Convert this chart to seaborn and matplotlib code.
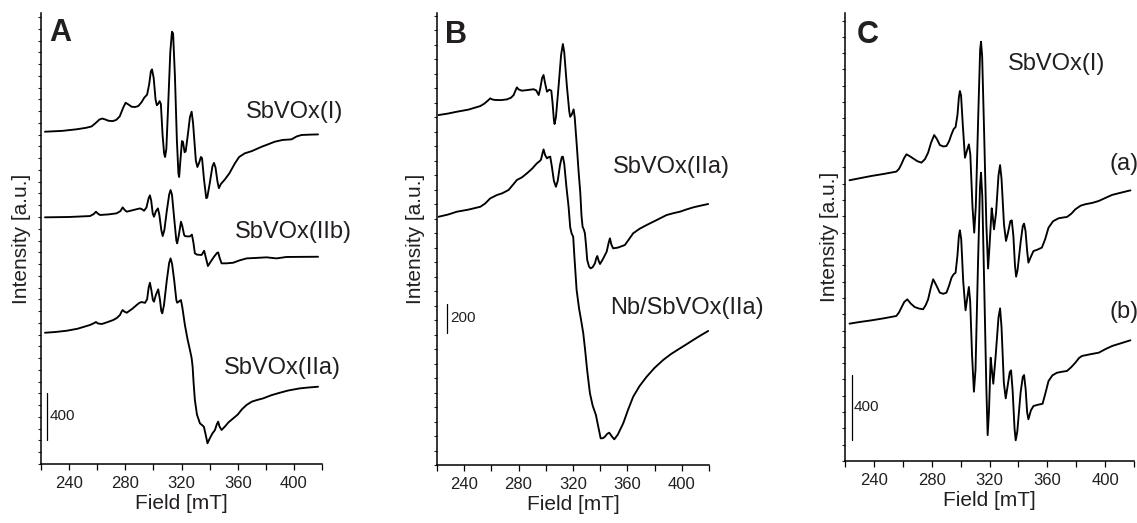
import matplotlib
matplotlib.use('Agg')
import matplotlib.pyplot as plt
import seaborn as sns
from matplotlib.ticker import MultipleLocator, NullFormatter

# Panel A - SbVOx(I)
a_i_field = [222.8, 235, 245, 252, 256, 259, 261.5, 263.5, 265.5, 268, 271, 273.5, 276, 278.5,
             280.2, 282, 284.5, 287, 289.2, 291.5, 293.5, 295.5, 297, 298.2, 299, 300.2, 301.5,
             302.4, 303.3, 304.4, 305.3, 306.5, 307.6, 308.3, 309.2, 310.5, 312, 313.2, 314,
             315.3, 316.7, 317.8, 318.3, 319, 320.3, 321, 322.2, 323, 324.5, 326, 327.2, 328.2,
             330.2, 331.3, 332.5, 333.8, 334.6, 336, 337.6, 338.3, 340, 342, 343.1, 344.2, 345.6,
             346.6, 348, 350.9, 354, 358, 361, 365, 370, 377, 381, 386.4, 392, 398.3, 402, 405.4,
             411, 417.2]
a_i_int = [2825, 2832, 2845, 2858, 2870, 2900, 2928, 2937, 2930, 2918, 2915, 2925, 2955, 3030,
           3071, 3058, 3037, 3035, 3043, 3075, 3115, 3140, 3230, 3340, 3355, 3280, 3100,
           3050, 3060, 3085, 3060, 2800, 2640, 2610, 2680, 3050, 3500, 3675, 3660,
           3300, 2750, 2470, 2440, 2550, 2745, 2740, 2650, 2660, 2800, 2950, 2995, 2900,
           2580, 2525, 2560, 2610, 2600, 2420, 2260, 2265, 2380, 2530, 2560, 2520, 2400,
           2345, 2380, 2420, 2470, 2556, 2610, 2641, 2660, 2697, 2715, 2740, 2755, 2760, 2785, 2797,
           2800, 2802]

# Panel A - SbVOx(IIb)
a_iib_field = [222.8, 240, 254.9, 257.5, 259.1, 260.5, 262, 268, 273.8, 276.5, 278.1, 279.5, 281,
               286, 290.4, 292, 293.3, 295, 296.6, 297.5, 298.4, 299.5, 300.4, 301.8, 303.2, 304.2,
               305.6, 306.6, 307.8, 309.5, 311.2, 312.2, 313.2, 315, 316.3, 316.9, 318, 319.6,
               320.6, 321.8, 322.4, 324, 326, 327.4, 328.5, 329.5, 331, 334.3, 336.1, 337, 338.8,
               340.5, 343, 345.3, 346.1, 347.2, 348.5, 352, 356.8, 361, 366.3, 373, 380.5, 387.6,
               394.7, 405, 417.2]
a_iib_int = [2097, 2100, 2108, 2125, 2145, 2128, 2117, 2122, 2131, 2150, 2182, 2160, 2145,
             2160, 2173, 2165, 2153, 2180, 2260, 2284, 2240, 2130, 2102, 2150, 2173, 2120,
             1990, 1938, 1990, 2150, 2290, 2329, 2290, 2060, 1900, 1876, 1940, 2060,
             2020, 1950, 1938, 1935, 1935, 1950, 1880, 1791, 1780, 1777, 1813, 1770, 1683,
             1715, 1760, 1795, 1799, 1750, 1706, 1706, 1711, 1730, 1748, 1752, 1757, 1748,
             1760, 1761, 1762]

# Panel A - SbVOx(IIa)
a_iia_field = [222.8, 230, 238.3, 246, 254.9, 257.8, 259.1, 260.5, 263.2, 267, 271.4, 274, 276.2,
               277.3, 278.1, 279.3, 281, 285, 288.1, 290, 291.6, 294, 295.5, 296.6, 297.5, 298.5,
               299.6, 300.4, 301.8, 303.4, 304.6, 305.6, 306.3, 307.5, 309.5, 311.2, 312.2, 313.3,
               314.8, 316.3, 316.9, 318, 319.6, 320.6, 322.4, 324.3, 326, 327.2, 327.9, 328.6,
               329.5, 331, 333.1, 334.7, 335.9, 337, 338.5, 340, 342, 343.8, 345.2, 346.1, 347,
               348.5, 351, 353.5, 356.8, 360, 363, 366.3, 370, 374, 378.1, 384, 390, 396, 404.2,
               410, 417.2]
a_iia_int = [1116, 1122, 1133, 1150, 1182, 1198, 1207, 1195, 1190, 1205, 1224, 1242, 1267,
             1295, 1309, 1296, 1286, 1320, 1352, 1370, 1377, 1370, 1400, 1500, 1541, 1480,
             1395, 1380, 1440, 1485, 1400, 1300, 1281, 1350, 1560, 1710, 1748, 1700,
             1560, 1395, 1371, 1380, 1394, 1330, 1182, 1060, 969, 900, 827, 690,
             544, 420, 346, 330, 317, 260, 176, 215, 260, 289, 340, 360, 320,
             289, 320, 355, 388, 420, 465, 502, 530, 545, 558, 585, 606, 625, 643,
             650, 657]

# Panel B - SbVOx(IIa)
b_iia_field = [221.2, 228, 234.7, 243, 251.9, 255, 257.5, 259.2, 260.8, 262.9, 267, 271.5, 274.5,
               276.4, 277.8, 278.8, 280, 282.5, 287, 291.1, 293, 294.8, 296, 297.3, 298.4, 299.4,
               300.9, 302.6, 304.1, 305, 306, 306.5, 307.5, 309.5, 311.3, 312.6, 313.6, 315.5,
               317.3, 318, 319.2, 320.5, 321.3, 322.9, 324.2, 325.4, 326.3, 327.1, 328.0, 328.8,
               329.6, 330.5, 331.8, 333.0, 334.5, 336.2, 337.1, 337.9, 338.9, 339.9, 342, 344.8,
               346.3, 347.2, 348.3, 349.6, 353, 358.2, 361, 364.3, 369, 374.2, 381.5, 388.9, 394,
               398.7, 403, 408.5, 414, 419.5]
b_iia_int = [2415, 2425, 2438, 2452, 2477, 2495, 2515, 2530, 2522, 2519, 2518, 2523, 2535,
             2553, 2585, 2606, 2592, 2583, 2588, 2593, 2585, 2553, 2600, 2670, 2691, 2640,
             2576, 2590, 2583, 2500, 2380, 2353, 2400, 2620, 2830, 2905, 2850, 2620,
             2440, 2403, 2420, 2454, 2400, 2196, 2020, 1880, 1720, 1644, 1625, 1599,
             1520, 1415, 1370, 1357, 1365, 1392, 1425, 1442, 1410, 1387, 1420, 1472,
             1535, 1564, 1520, 1495, 1500, 1518, 1555, 1599, 1630, 1656, 1690, 1725, 1738,
             1748, 1762, 1778, 1790, 1801]

# Panel B - Nb/SbVOx(IIa)
b_nb_field = [221.2, 228, 234.7, 243, 251.9, 255.5, 259.2, 264.1, 268, 272.7, 276, 278.8, 282.5,
              286.2, 290, 293.5, 295.3, 296.5, 297.6, 298.4, 299.5, 300.9, 302.2, 303.3, 304.5,
              306, 307.5, 308.8, 310.5, 311.8, 312.6, 313.6, 315.2, 316.8, 318, 319.0, 320.2,
              321.2, 322.7, 324.5, 326, 327.6, 329, 330.5, 332.5, 334.5, 336.9, 338.5, 340.4,
              342, 343.5, 345.2, 346.7, 348.4, 350.4, 353, 357.0, 360.5, 364.3, 369, 374.2, 380,
              386.4, 392, 398.7, 403, 408.5, 414, 419.5]
b_nb_int = [1713, 1728, 1748, 1762, 1782, 1805, 1840, 1863, 1875, 1898, 1935, 1967, 1985,
            2013, 2045, 2082, 2095, 2107, 2150, 2178, 2140, 2116, 2125, 2128, 2060,
            1960, 1920, 1960, 2070, 2125, 2128, 2080, 1920, 1782, 1640, 1599, 1575,
            1420, 1208, 1080, 1000, 909, 790, 650, 495, 410, 345, 270, 184,
            185, 195, 215, 223, 200, 177, 210, 288, 380, 471, 545, 609, 670,
            725, 765, 805, 830, 863, 895, 925]

# Panel C - SbVOx(I) (a)
c_a_field = [223.1, 230, 238.1, 247, 255.5, 257.3, 259.0, 260.8, 262.5, 264.5, 267.1, 270, 272.9,
             275.3, 277.5, 279.5, 281.7, 283.5, 285.6, 288, 290.2, 292, 293.7, 295.2, 296.5, 297.8,
             298.8, 299.5, 300.3, 301.5, 303.0, 304.3, 305.7, 306.7, 308.2, 309.4, 310.5, 312.3,
             313.5, 314.1, 314.9, 316.3, 317.8, 319.0, 320.0, 321.5, 322.2, 323.1, 324.5, 326.2,
             327.3, 328.3, 330, 331.4, 332.8, 334.4, 335.4, 336.5, 337.6, 338.4, 339.4, 341.5,
             343.0, 343.9, 344.9, 346.0, 346.9, 348.5, 350.4, 353, 356.2, 358.5, 360.8, 364,
             367.8, 370.5, 373.6, 376.5, 379.4, 383, 386.3, 391, 395.6, 400, 404.8, 411, 417.5]
c_a_int = [1721, 1733, 1747, 1760, 1774, 1790, 1819, 1855, 1880, 1870, 1855, 1838, 1829,
           1850, 1890, 1950, 1998, 1975, 1937, 1928, 1931, 1960, 2003, 2035, 2047, 2120,
           2230, 2268, 2240, 2060, 1859, 1900, 1941, 1880, 1560, 1400, 1560, 2150,
           2520, 2570, 2480, 2000, 1450, 1180, 1320, 1549, 1500, 1420, 1520, 1750,
           1814, 1730, 1450, 1349, 1400, 1470, 1475, 1380, 1200, 1130, 1170, 1340,
           1440, 1455, 1410, 1290, 1216, 1250, 1287, 1295, 1308, 1360, 1430, 1470,
           1488, 1492, 1496, 1515, 1543, 1565, 1574, 1582, 1594, 1612, 1631, 1645, 1659]

# Panel C - SbVOx(I) (b)
c_b_field = [223.1, 230, 238.1, 247, 255.5, 257.3, 259.0, 261, 263.1, 265.5, 268.2, 271, 274.0,
             275.8, 277.5, 279.3, 281.0, 283, 285.6, 288, 290.2, 292, 293.7, 295.2, 296.5, 297.8,
             298.8, 299.5, 300.4, 301.8, 303.4, 304.6, 305.7, 306.6, 307.9, 309.2, 310.3, 312.0,
             313.4, 314.1, 315, 316.5, 317.8, 318.7, 319.6, 320.8, 321.6, 322.6, 324.2, 326.2,
             327.3, 328.3, 329.9, 331.2, 332.7, 334.0, 334.9, 336, 337.3, 338.1, 339.2, 341.5,
             343.0, 343.9, 345, 346.0, 346.9, 348.6, 350.4, 353.5, 356.7, 358.8, 360.8, 363.5,
             366.6, 370, 373.6, 376.5, 379.4, 382, 384.0, 390, 395.6, 400, 404.8, 411, 417.5]
c_b_int = [842, 852, 862, 875, 889, 910, 940, 975, 991, 965, 944, 935, 930,
           955, 991, 1060, 1114, 1080, 1032, 1025, 1032, 1075, 1124, 1145, 1154, 1260,
           1380, 1414, 1360, 1100, 924, 1000, 1067, 980, 650, 425, 560, 1200,
           1680, 1767, 1620, 1000, 450, 159, 300, 633, 560, 474, 640, 880,
           936, 820, 480, 384, 470, 545, 556, 430, 200, 127, 180, 420,
           515, 527, 440, 300, 256, 310, 337, 345, 351, 420, 490, 525,
           541, 547, 552, 575, 603, 632, 644, 655, 664, 685, 705, 722, 740]

# scale bars (field, start, length)
bar_a = (224.3, 204, 400)
bar_b = (227.4, 911, 200)
bar_c = (224.6, 130, 400)

sns.set_style('ticks')
plt.rcParams['font.family'] = ['Liberation Sans', 'DejaVu Sans']

txt = '#231f20'
fig = plt.figure(figsize=(11.37, 5.23), dpi=100)
axA = fig.add_axes([0.0361, 0.1128, 0.2471, 0.8623])
axB = fig.add_axes([0.3843, 0.1109, 0.2392, 0.8642])
axC = fig.add_axes([0.7432, 0.1185, 0.2542, 0.8566])


def style_axis(ax, ytop, lpad):
    ax.set_xlim(220, 420)
    ax.set_ylim(0, ytop)
    ax.xaxis.set_major_locator(MultipleLocator(40))
    ax.xaxis.set_minor_locator(MultipleLocator(20))
    ax.yaxis.set_major_locator(MultipleLocator(100))
    ax.yaxis.set_major_formatter(NullFormatter())
    ax.tick_params(axis='x', which='both', direction='out', length=4.5, width=0.9,
                   labelsize=12, pad=4, colors='black', labelcolor=txt)
    ax.tick_params(axis='y', which='both', direction='out', length=2, width=0.8)
    for s in ['top', 'right']:
        ax.spines[s].set_visible(False)
    for s in ['left', 'bottom']:
        ax.spines[s].set_linewidth(1.1)
        ax.spines[s].set_color('black')
    ax.set_xlabel('Field [mT]', fontsize=15, color=txt, labelpad=2)
    ax.set_ylabel('Intensity [a.u.]', fontsize=15, color=txt, labelpad=lpad)


def curve(ax, x, y):
    sns.lineplot(x=x, y=y, ax=ax, color='black', lw=1.35, sort=False, estimator=None)


def scale_bar(ax, bar, label_x):
    x, y0, h = bar
    ax.plot([x, x], [y0, y0 + h], color='black', lw=0.9)
    ax.text(label_x, y0 + h / 2, str(h), fontsize=11, color=txt, ha='left', va='center')


# A
style_axis(axA, 3834, 2)
curve(axA, a_i_field, a_i_int)
curve(axA, a_iib_field, a_iib_int)
curve(axA, a_iia_field, a_iia_int)
axA.text(365.8, 2992, 'SbVOx(I)', fontsize=17, color=txt, va='center')
axA.text(358.0, 1972, 'SbVOx(IIb)', fontsize=17, color=txt, va='center')
axA.text(350.2, 816, 'SbVOx(IIa)', fontsize=17, color=txt, va='center')
scale_bar(axA, bar_a, 226.0)
axA.text(0.028, 0.988, 'A', transform=axA.transAxes, fontsize=22, fontweight='bold', va='top', color=txt)

# B
style_axis(axB, 3119, 3)
curve(axB, b_iia_field, b_iia_int)
curve(axB, b_nb_field, b_nb_int)
axB.text(349.4, 2056, 'SbVOx(IIa)', fontsize=17, color=txt, va='center')
axB.text(347.2, 1083, 'Nb/SbVOx(IIa)', fontsize=17, color=txt, va='center')
scale_bar(axB, bar_b, 230.0)
axB.text(0.029, 0.985, 'B', transform=axB.transAxes, fontsize=22, fontweight='bold', va='top', color=txt)

# C
style_axis(axC, 2746, -1)
curve(axC, c_a_field, c_a_int)
curve(axC, c_b_field, c_b_int)
axC.text(333.0, 2432, 'SbVOx(I)', fontsize=17, color=txt, va='center')
axC.text(402.7, 1819, '(a)', fontsize=17, color=txt, va='center')
axC.text(402.7, 915, '(b)', fontsize=17, color=txt, va='center')
scale_bar(axC, bar_c, 225.7)
axC.text(0.040, 0.985, 'C', transform=axC.transAxes, fontsize=22, fontweight='bold', va='top', color=txt)

fig.savefig('out.png', dpi=100)
